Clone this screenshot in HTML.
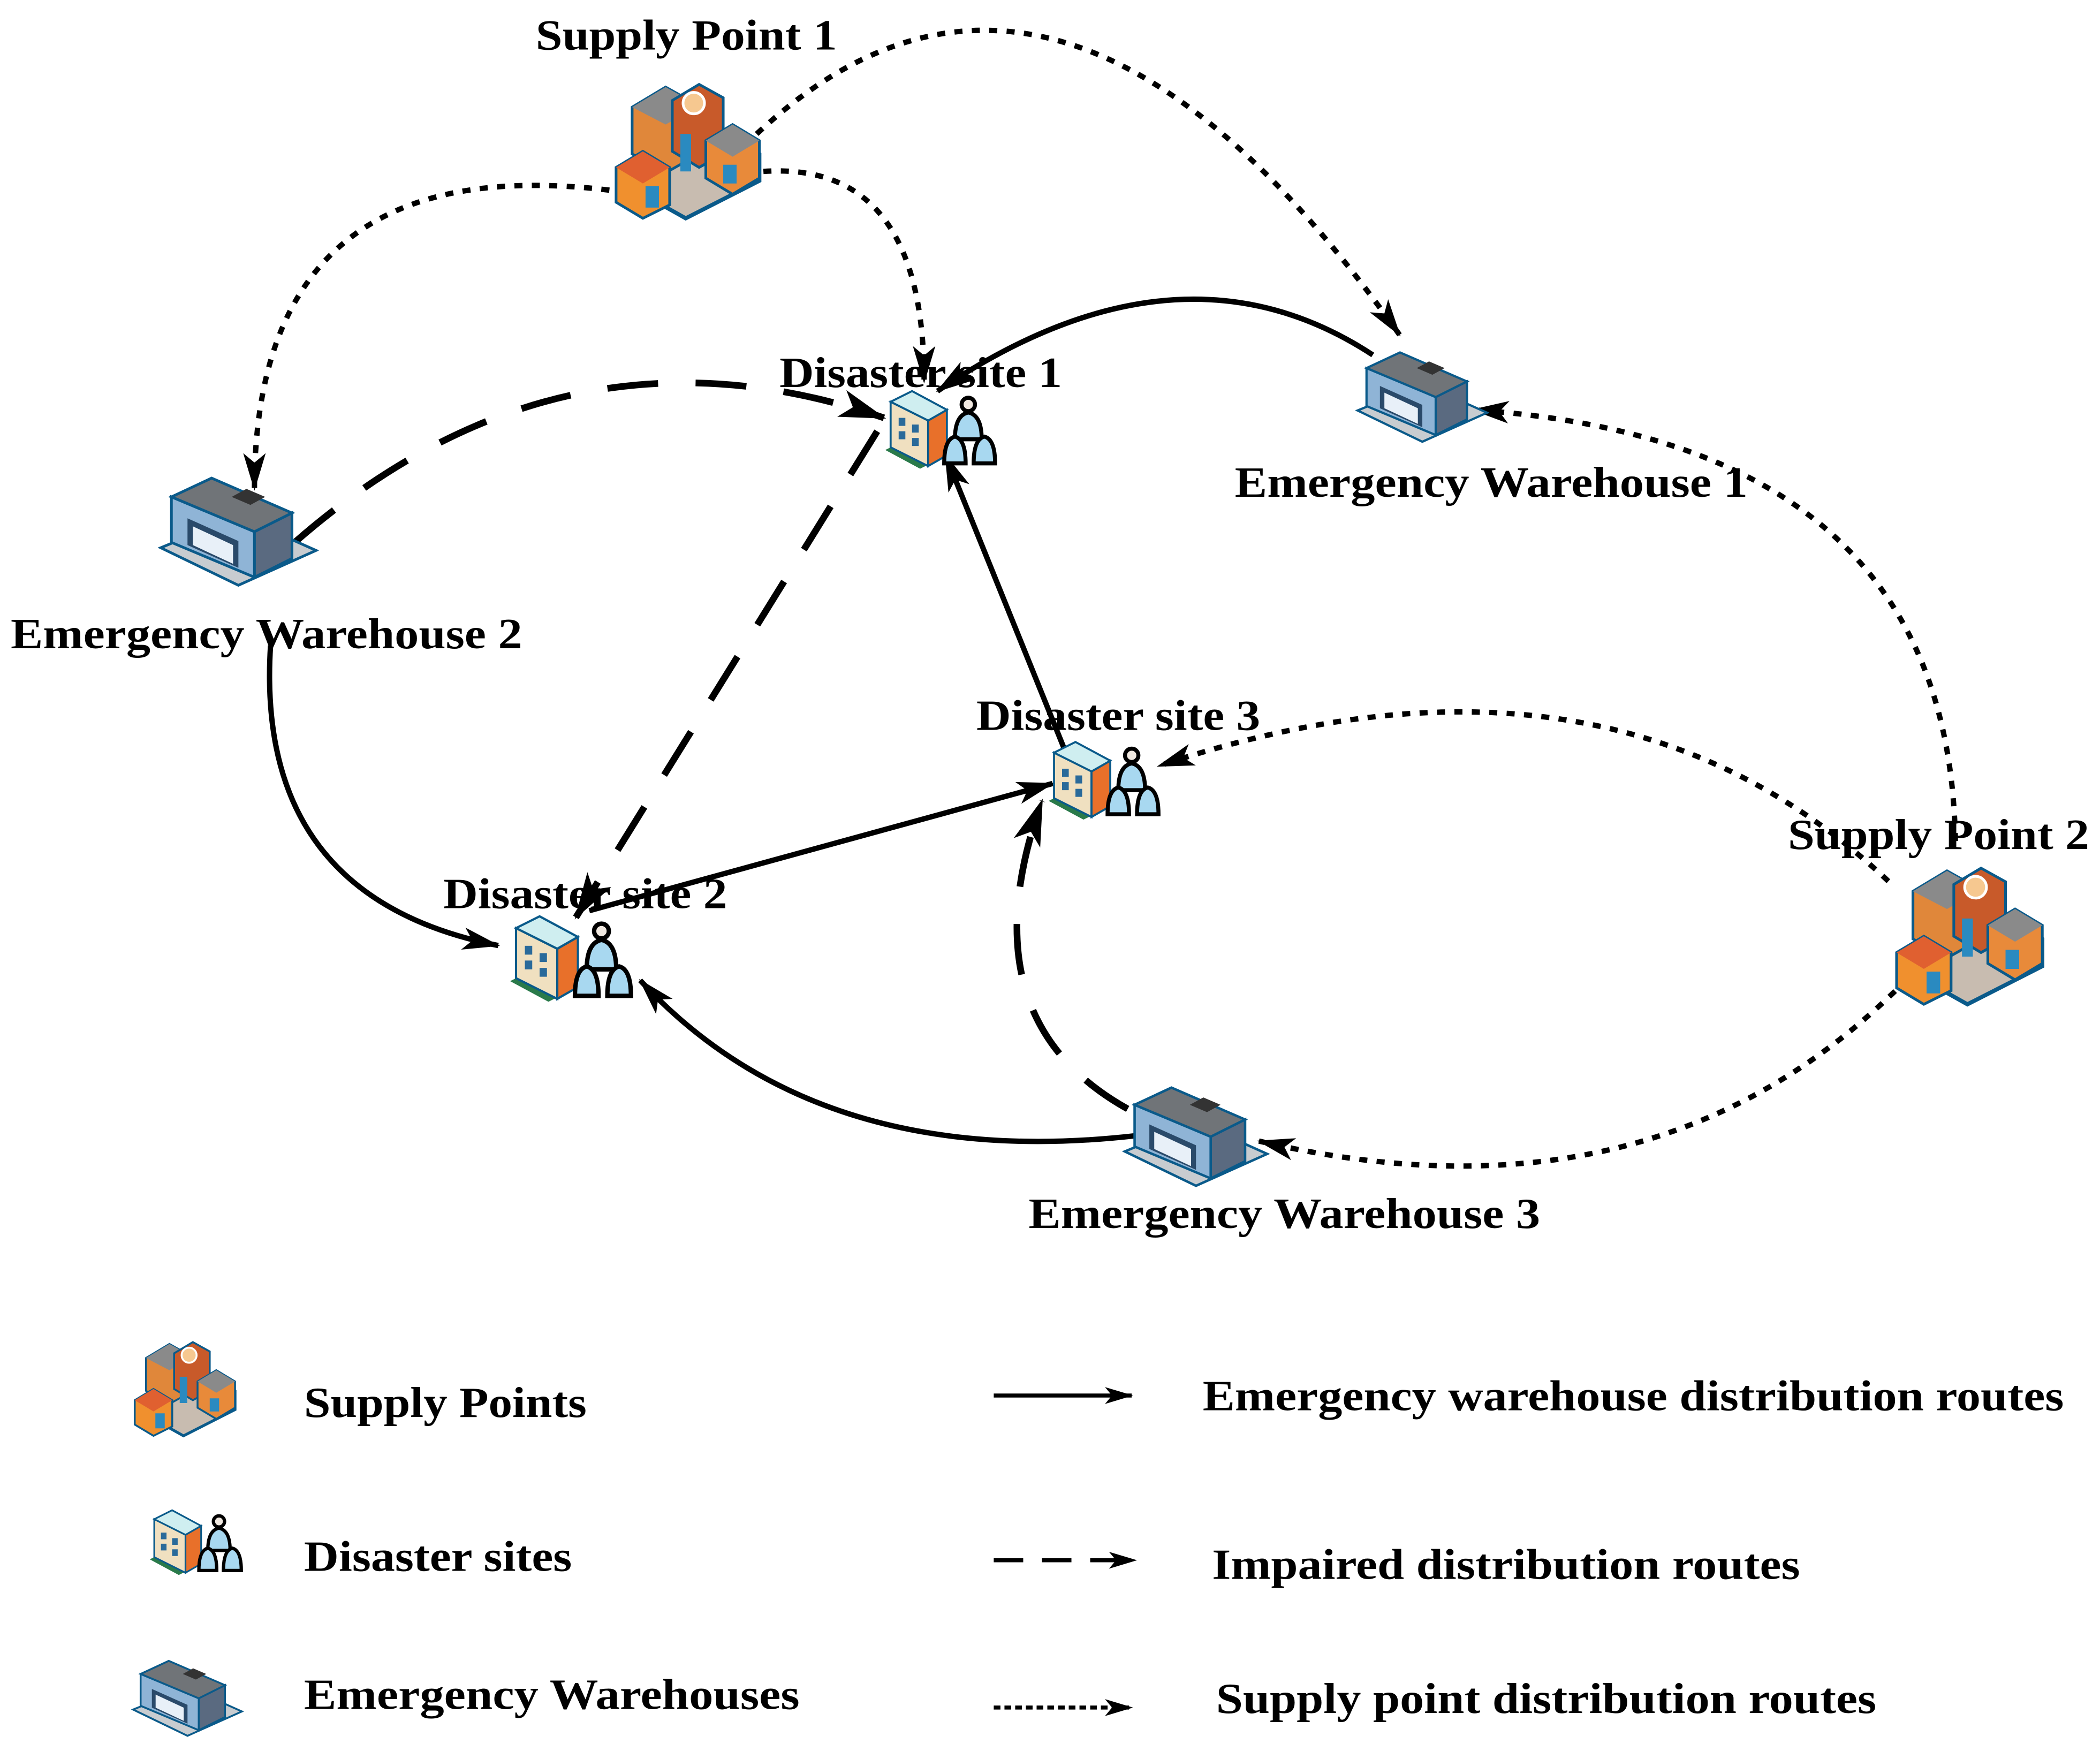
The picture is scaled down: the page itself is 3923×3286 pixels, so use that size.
<!DOCTYPE html>
<html><head><meta charset="utf-8"><style>
html,body{margin:0;padding:0;background:#fff;}
svg{display:block}
text{font-family:"Liberation Serif",serif;font-weight:bold;fill:#000;font-size:32px}
</style></head><body>
<svg width="3923" height="3286" viewBox="0 0 1568 1313.4" preserveAspectRatio="none" xmlns="http://www.w3.org/2000/svg">
<defs>
<marker id="ah" viewBox="0 0 20 12" refX="19" refY="6" markerWidth="7" markerHeight="5" markerUnits="strokeWidth" orient="auto">
<path d="M0,0 L20,6 L0,12 L5,6 Z" fill="#000"/></marker>
<symbol id="supply" viewBox="0 0 120 110">
<path d="M10,70 L40,52 L40,40 L60,28 L100,50 L115,60 L115,80 L60,108 L10,80 Z" fill="#c8bcb0" stroke="#0a5a8a" stroke-width="3"/>
<polygon points="20,25 45,10 70,24 70,60 45,74 20,60" fill="#e0873a" stroke="#0a5a8a" stroke-width="2"/>
<polygon points="20,25 45,10 70,24 45,38" fill="#8a8a8a"/>
<polygon points="50,20 70,8 88,18 88,60 70,70 50,58" fill="#c85a2a" stroke="#0a5a8a" stroke-width="2"/>
<circle cx="66" cy="22" r="8" fill="#f6c890" stroke="#fff" stroke-width="2"/>
<polygon points="75,50 95,38 115,50 115,78 95,90 75,78" fill="#e88a3a" stroke="#0a5a8a" stroke-width="2"/>
<polygon points="75,50 95,38 115,50 95,62" fill="#8a8a8a"/>
<polygon points="8,70 28,58 48,70 48,98 28,108 8,96" fill="#f0902e" stroke="#0a5a8a" stroke-width="2"/>
<polygon points="8,70 28,58 48,70 28,82" fill="#e06030"/>
<rect x="30" y="84" width="10" height="16" fill="#2a8ac0"/>
<rect x="56" y="45" width="8" height="28" fill="#2a8ac0"/>
<rect x="88" y="68" width="10" height="14" fill="#2a8ac0"/>
</symbol>
<symbol id="wh" viewBox="0 0 120 90">
<polygon points="2,60 60,88 118,62 60,36" fill="#c8ccd0" stroke="#0a5a8a" stroke-width="2"/>
<polygon points="10,22 10,56 72,82 72,48" fill="#8fb4d6" stroke="#0a5a8a" stroke-width="2"/>
<polygon points="72,48 72,82 100,68 100,34" fill="#5a6a80" stroke="#0a5a8a" stroke-width="2"/>
<polygon points="10,22 40,8 100,34 72,48" fill="#707478" stroke="#0a5a8a" stroke-width="2"/>
<polygon points="55,22 66,16 80,22 69,28" fill="#333"/>
<polygon points="22,38 60,55 60,75 22,58" fill="#2a4a6a"/>
<polygon points="26,44 56,58 56,72 26,58" fill="#e8f0f8"/>
</symbol>
<symbol id="ds" viewBox="0 0 90 60">
<polygon points="4,46 30,60 62,44 36,30" fill="#2a7a4a"/>
<polygon points="8,10 8,44 36,58 36,24" fill="#f0e0c0" stroke="#0a5a8a" stroke-width="1.5"/>
<polygon points="36,24 36,58 50,50 50,16" fill="#e8702a" stroke="#0a5a8a" stroke-width="1.5"/>
<polygon points="8,10 24,2 50,16 36,24" fill="#cfeef0" stroke="#0a5a8a" stroke-width="1.5"/>
<rect x="14" y="22" width="5" height="6" fill="#2a6a9a"/><rect x="24" y="27" width="5" height="6" fill="#2a6a9a"/>
<rect x="14" y="32" width="5" height="6" fill="#2a6a9a"/><rect x="24" y="37" width="5" height="6" fill="#2a6a9a"/>
<g stroke="#000" stroke-width="3" fill="#a8d8f0">
<circle cx="66" cy="12" r="5" fill="#f0e8e0"/>
<path d="M56,38 Q56,20 66,18 Q76,20 76,38 Z"/>
<path d="M48,56 Q48,38 56,36 Q64,38 64,56 Z"/>
<path d="M70,56 Q70,38 78,36 Q86,38 86,56 Z"/>
</g>
</symbol>
</defs>

<g fill="none" stroke="#000">
<g stroke-width="4" stroke-dasharray="6 7">
<path d="M565,100 Q790,-110 1045,250" marker-end="url(#ah)"/>
<path d="M570,128 Q690,120 690,285" marker-end="url(#ah)"/>
<path d="M455,142 Q190,110 190,365" marker-end="url(#ah)"/>
<path d="M1460,628 Q1455,330 1100,306" marker-end="url(#ah)"/>
<path d="M1410,658 Q1200,460 865,572" marker-end="url(#ah)"/>
<path d="M1415,740 Q1230,920 940,852" marker-end="url(#ah)"/>
</g>
<g stroke-width="5" stroke-dasharray="38 28">
<path d="M220,405 Q420,230 660,312" marker-end="url(#ah)"/>
<path d="M655,322 L430,685" marker-end="url(#ah)"/>
<path d="M842,828 Q720,760 778,598" marker-end="url(#ah)"/>
</g>
<g stroke-width="4">
<path d="M1025,265 Q880,170 700,292" marker-end="url(#ah)"/>
<path d="M795,560 L706,340" marker-end="url(#ah)"/>
<path d="M440,680 L786,585" marker-end="url(#ah)"/>
<path d="M202,482 Q190,670 372,706" marker-end="url(#ah)"/>
<path d="M848,848 Q610,875 478,732" marker-end="url(#ah)"/>
</g>
</g>

<use href="#supply" x="452" y="55" width="120" height="110"/>
<use href="#supply" x="1408" y="640" width="122" height="112"/>
<use href="#wh" x="1012" y="255" width="100" height="78"/>
<use href="#wh" x="118" y="348" width="120" height="92"/>
<use href="#wh" x="838" y="800" width="110" height="92"/>
<use href="#ds" x="656" y="290" width="92" height="60"/>
<use href="#ds" x="778" y="552" width="92" height="60"/>
<use href="#ds" x="376" y="682" width="100" height="66"/>

<g>
<text x="400" y="37" textLength="225" lengthAdjust="spacingAndGlyphs">Supply Point 1</text>
<text x="922" y="371" textLength="383" lengthAdjust="spacingAndGlyphs">Emergency Warehouse 1</text>
<text x="8" y="484" textLength="382" lengthAdjust="spacingAndGlyphs">Emergency Warehouse 2</text>
<text x="582" y="289" textLength="211" lengthAdjust="spacingAndGlyphs">Disaster site 1</text>
<text x="729" y="545" textLength="212" lengthAdjust="spacingAndGlyphs">Disaster site 3</text>
<text x="331" y="678" textLength="212" lengthAdjust="spacingAndGlyphs">Disaster site 2</text>
<text x="1335" y="634" textLength="225" lengthAdjust="spacingAndGlyphs">Supply Point 2</text>
<text x="768" y="917" textLength="382" lengthAdjust="spacingAndGlyphs">Emergency Warehouse 3</text>
</g>

<use href="#supply" x="95" y="995" width="84" height="80"/>
<use href="#ds" x="108" y="1126" width="76" height="50"/>
<use href="#wh" x="98" y="1232" width="84" height="68"/>
<text x="227" y="1058" textLength="211" lengthAdjust="spacingAndGlyphs">Supply Points</text>
<text x="227" y="1173" textLength="200" lengthAdjust="spacingAndGlyphs">Disaster sites</text>
<text x="227" y="1276" textLength="370" lengthAdjust="spacingAndGlyphs">Emergency Warehouses</text>
<g fill="none" stroke="#000">
<path d="M742,1042 L845,1042" stroke-width="3" marker-end="url(#ah)"/>
<path d="M742,1165 L848,1165" stroke-width="3" stroke-dasharray="22 14" marker-end="url(#ah)"/>
<path d="M742,1275 L845,1275" stroke-width="3" stroke-dasharray="5 3" marker-end="url(#ah)"/>
</g>
<text x="898" y="1053" textLength="643" lengthAdjust="spacingAndGlyphs">Emergency warehouse distribution routes</text>
<text x="905" y="1179" textLength="439" lengthAdjust="spacingAndGlyphs">Impaired distribution routes</text>
<text x="908" y="1279" textLength="493" lengthAdjust="spacingAndGlyphs">Supply point distribution routes</text>
</svg>
</body></html>
